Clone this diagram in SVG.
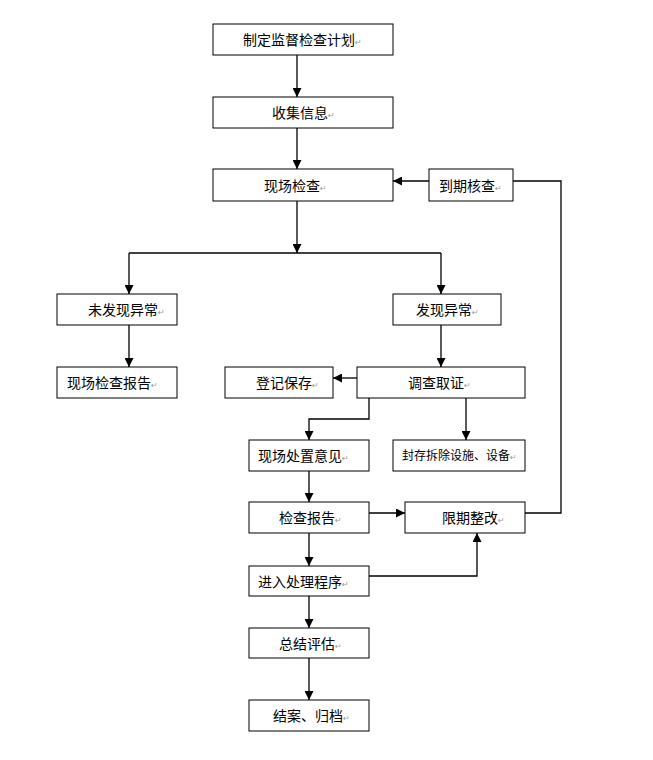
<svg xmlns="http://www.w3.org/2000/svg" width="653" height="760" viewBox="0 0 653 760">
<style>
.box{fill:#fff;stroke:#000;stroke-width:1}
.lbl{font-family:"Noto Sans CJK SC","Noto Sans CJK JP",sans-serif;font-size:14px;fill:#000}
.sm{font-size:12px}
.rm{font-family:"DejaVu Sans",sans-serif;font-size:8px;fill:#999}
.ln{fill:none;stroke:#000;stroke-width:1.3}
.ar{marker-end:url(#ah)}
</style>
<defs>
<marker id="ah" markerUnits="userSpaceOnUse" markerWidth="10" markerHeight="9" refX="9" refY="4.5" orient="auto">
<path d="M0,0 L9,4.5 L0,9 z" fill="#000"/>
</marker>
</defs>
<rect width="653" height="760" fill="#fff"/>
<g id="connectors">
<path class="ln ar" d="M297,55 V97"/>
<path class="ln ar" d="M297,128 V169"/>
<path class="ln ar" d="M429,181 H393"/>
<path class="ln" d="M513,181 H561 V513 H525"/>
<path class="ln ar" d="M297,201 V253"/>
<path class="ln" d="M129,253 H441"/>
<path class="ln ar" d="M129,253 V294"/>
<path class="ln ar" d="M441,253 V294"/>
<path class="ln ar" d="M129,325 V367"/>
<path class="ln ar" d="M441,325 V367"/>
<path class="ln ar" d="M357,378 H333"/>
<path class="ln ar" d="M369,398 V419 H309 V440"/>
<path class="ln ar" d="M466,398 V440"/>
<path class="ln ar" d="M309,471 V502"/>
<path class="ln ar" d="M369,513 H405"/>
<path class="ln ar" d="M309,533 V566"/>
<path class="ln ar" d="M369,576 H477 V533"/>
<path class="ln ar" d="M309,596 V628"/>
<path class="ln ar" d="M309,658 V700"/>
</g>
<g id="n1"><rect class="box" x="213" y="24" width="180" height="31"/><text class="lbl" x="243" y="45">制定监督检查计划<tspan class="rm">↵</tspan></text></g>
<g id="n2"><rect class="box" x="213" y="97" width="180" height="31"/><text class="lbl" x="272" y="118">收集信息<tspan class="rm">↵</tspan></text></g>
<g id="n3"><rect class="box" x="213" y="169" width="180" height="32"/><text class="lbl" x="264" y="191">现场检查<tspan class="rm">↵</tspan></text></g>
<g id="n4"><rect class="box" x="429" y="169" width="84" height="32"/><text class="lbl" x="439" y="191">到期核查<tspan class="rm">↵</tspan></text></g>
<g id="n5"><rect class="box" x="57" y="294" width="120" height="31"/><text class="lbl" x="88" y="315">未发现异常<tspan class="rm">↵</tspan></text></g>
<g id="n6"><rect class="box" x="393" y="294" width="108" height="31"/><text class="lbl" x="416" y="315">发现异常<tspan class="rm">↵</tspan></text></g>
<g id="n7"><rect class="box" x="57" y="367" width="120" height="31"/><text class="lbl" x="67" y="388">现场检查报告<tspan class="rm">↵</tspan></text></g>
<g id="n8"><rect class="box" x="225" y="367" width="108" height="31"/><text class="lbl" x="256" y="388">登记保存<tspan class="rm">↵</tspan></text></g>
<g id="n9"><rect class="box" x="357" y="367" width="168" height="31"/><text class="lbl" x="408" y="388">调查取证<tspan class="rm">↵</tspan></text></g>
<g id="n10"><rect class="box" x="249" y="440" width="120" height="31"/><text class="lbl" x="258" y="461">现场处置意见<tspan class="rm">↵</tspan></text></g>
<g id="n11"><rect class="box" x="393" y="440" width="132" height="31"/><text class="lbl sm" x="402" y="460">封存拆除设施、设备<tspan class="rm">↵</tspan></text></g>
<g id="n12"><rect class="box" x="249" y="502" width="120" height="31"/><text class="lbl" x="279" y="523">检查报告<tspan class="rm">↵</tspan></text></g>
<g id="n13"><rect class="box" x="405" y="502" width="120" height="31"/><text class="lbl" x="442" y="523">限期整改<tspan class="rm">↵</tspan></text></g>
<g id="n14"><rect class="box" x="249" y="566" width="120" height="30"/><text class="lbl" x="258" y="587">进入处理程序<tspan class="rm">↵</tspan></text></g>
<g id="n15"><rect class="box" x="249" y="628" width="120" height="30"/><text class="lbl" x="279" y="649">总结评估<tspan class="rm">↵</tspan></text></g>
<g id="n16"><rect class="box" x="249" y="700" width="120" height="31"/><text class="lbl" x="273" y="721">结案、归档<tspan class="rm">↵</tspan></text></g>
</svg>
